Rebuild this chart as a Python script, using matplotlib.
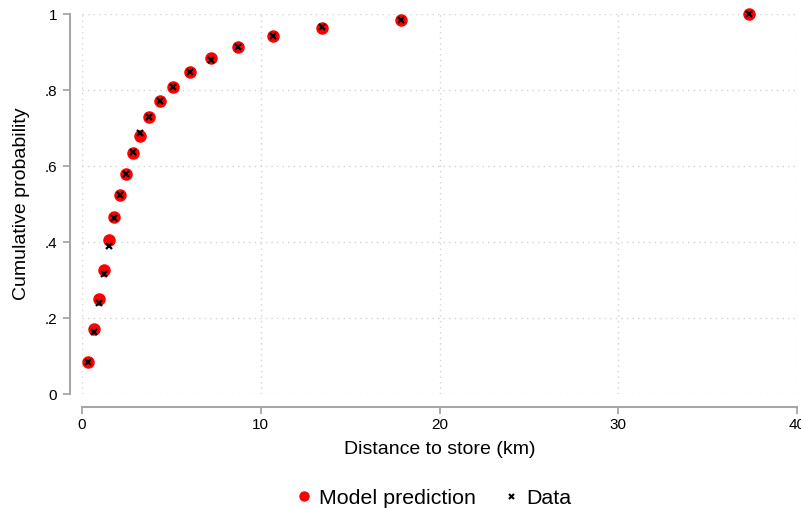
import matplotlib
matplotlib.use("Agg")
import matplotlib.pyplot as plt
from matplotlib.lines import Line2D

plt.rcParams['font.family'] = ['Liberation Sans', 'DejaVu Sans']

# distance (km) at each point, model prediction and data CDF
distance = [0.34, 0.65, 0.95, 1.23, 1.51, 1.81, 2.13, 2.48, 2.84, 3.23,
            3.75, 4.39, 5.11, 6.04, 7.22, 8.71, 10.69, 13.40, 17.87, 37.33]
model_cdf = [0.083, 0.170, 0.251, 0.326, 0.404, 0.465, 0.525, 0.580, 0.634, 0.680,
             0.729, 0.770, 0.809, 0.847, 0.884, 0.914, 0.943, 0.964, 0.983, 1.000]
data_cdf = [0.083, 0.164, 0.240, 0.315, 0.389, 0.462, 0.525, 0.580, 0.638, 0.688,
            0.730, 0.770, 0.809, 0.847, 0.880, 0.914, 0.943, 0.966, 0.985, 1.000]

xticks = [0, 10, 20, 30, 40]
yticks = [0, 0.2, 0.4, 0.6, 0.8, 1.0]
ytick_labels = ["0", ".2", ".4", ".6", ".8", "1"]

W, H = 801, 508
fig = plt.figure(figsize=(W / 100, H / 100), dpi=100)
ax = fig.add_axes([82 / W, 1 - 394 / H, (797 - 82) / W, (394 - 14) / H])

axis_col = "#a6a6a6"
grid_col = "#d2d2d2"

ax.plot(distance, model_cdf, "o", color="red", markersize=8, clip_on=False, zorder=3)
ax.plot(distance, data_cdf, "x", color="black", markersize=4.2, markeredgewidth=1.6,
        clip_on=False, zorder=4)

ax.set_xlim(0, 40)
ax.set_ylim(0, 1)
ax.set_xticks(xticks)
ax.set_yticks(yticks)
ax.set_yticklabels(ytick_labels)

ax.grid(True, linestyle=(0, (1, 3)), color=grid_col, linewidth=1)
ax.set_axisbelow(True)

for s in ["top", "right"]:
    ax.spines[s].set_visible(False)
ax.spines["left"].set_position(("outward", 9))
ax.spines["bottom"].set_position(("outward", 9.5))
for s in ["left", "bottom"]:
    ax.spines[s].set_color(axis_col)
    ax.spines[s].set_linewidth(1.5)

ax.tick_params(axis="both", colors=axis_col, labelcolor="black", length=5, width=1.3,
               labelsize=11)
ax.tick_params(axis="x", pad=3)
ax.tick_params(axis="y", pad=4)

ax.set_xlabel("Distance to store (km)", fontsize=14, labelpad=6)
ax.set_ylabel("Cumulative probability", fontsize=14, labelpad=10)

handles = [
    Line2D([], [], marker="o", color="red", linestyle="none", markersize=6.5),
    Line2D([], [], marker="x", color="black", linestyle="none", markersize=3.6,
           markeredgewidth=1.5),
]
fig.legend(handles, ["Model prediction", "Data"], loc="center",
           bbox_to_anchor=(431 / W, 1 - 498 / H), ncol=2, frameon=False,
           fontsize=15.4, handletextpad=0.1, columnspacing=1.05, handlelength=1.2)

fig.savefig("out.png", dpi=100)
